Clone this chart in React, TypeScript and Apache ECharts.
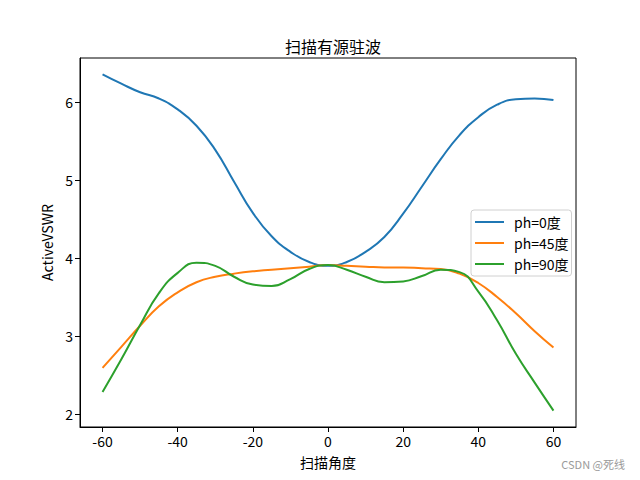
import React, { useEffect, useRef } from "react";
import * as echarts from "echarts";

const angles = [-60, -55, -50, -45, -40, -35, -30, -25, -20, -15, -10, -5, 0, 5, 10, 15, 20, 25, 30, 35, 40, 45, 50, 55, 60];
const ph0 = [6.36, 6.24, 6.13, 6.05, 5.91, 5.70, 5.39, 4.98, 4.58, 4.28, 4.08, 3.95, 3.90, 3.95, 4.08, 4.27, 4.57, 4.92, 5.27, 5.58, 5.81, 5.97, 6.04, 6.05, 6.03];
const ph45 = [2.59, 2.86, 3.13, 3.38, 3.56, 3.69, 3.76, 3.80, 3.83, 3.85, 3.87, 3.89, 3.91, 3.90, 3.89, 3.88, 3.88, 3.87, 3.86, 3.80, 3.68, 3.50, 3.29, 3.06, 2.85];
const ph90 = [2.28, 2.70, 3.14, 3.55, 3.81, 3.94, 3.90, 3.76, 3.66, 3.64, 3.73, 3.86, 3.91, 3.85, 3.76, 3.69, 3.70, 3.77, 3.85, 3.82, 3.57, 3.20, 2.77, 2.40, 2.04];
const seriesNames = ["ph=0度", "ph=45度", "ph=90度"];
const colors = ["#1f77b4", "#ff7f0e", "#2ca02c"];
const xTicks = [-60, -40, -20, 0, 20, 40, 60];
const yTicks = [2, 3, 4, 5, 6];

const FONT = "'Noto Sans CJK SC', 'DejaVu Sans', sans-serif";

export default function App() {
  const ref = useRef<HTMLDivElement>(null);
  useEffect(() => {
    document.body.style.margin = "0";
    const chart = echarts.init(ref.current!, null, { renderer: "svg" });
    const values = [ph0, ph45, ph90];
    chart.setOption({
      animation: false,
      backgroundColor: "#ffffff",
      textStyle: { fontFamily: FONT },
      title: {
        text: "扫描有源驻波",
        left: 280,
        top: 33,
        textStyle: { fontSize: 16, fontWeight: "normal", color: "#000", fontFamily: FONT },
      },
      grid: {
        left: 80,
        right: 64,
        top: 58,
        bottom: 53,
        show: true,
        borderColor: "#000",
        borderWidth: 1,
        backgroundColor: "transparent",
      },
      legend: {
        orient: "vertical",
        left: 471,
        top: 210,
        padding: [5, 3, 5, 4],
        itemGap: 7,
        itemWidth: 29,
        itemHeight: 2,
        icon: "rect",
        backgroundColor: "#fff",
        borderColor: "#d0d0d0",
        borderWidth: 1,
        borderRadius: 3,
        data: seriesNames,
        textStyle: { fontSize: 14, lineHeight: 14, color: "#000", fontFamily: FONT, padding: [0, 0, 0, 5] },
      },
      xAxis: {
        type: "value",
        min: -66,
        max: 66,
        name: "扫描角度",
        nameLocation: "middle",
        nameGap: 28,
        nameTextStyle: { fontSize: 14, color: "#000", fontFamily: FONT },
        axisLine: { show: true, onZero: false, lineStyle: { color: "#000", width: 1 } },
        axisTick: { show: true, length: 5, inside: false, customValues: xTicks, lineStyle: { color: "#000" } },
        axisLabel: { customValues: xTicks, fontSize: 14, color: "#000", margin: 7, fontFamily: FONT },
        splitLine: { show: false },
      },
      yAxis: {
        type: "value",
        min: 1.83,
        max: 6.57,
        name: "ActiveVSWR",
        nameLocation: "middle",
        nameGap: 19,
        nameRotate: 90,
        nameTextStyle: { fontSize: 14, color: "#000", fontFamily: FONT },
        axisLine: { show: true, onZero: false, lineStyle: { color: "#000", width: 1 } },
        axisTick: { show: true, length: 5, inside: false, customValues: yTicks, lineStyle: { color: "#000" } },
        axisLabel: { customValues: yTicks, fontSize: 14, color: "#000", margin: 7, fontFamily: FONT },
        splitLine: { show: false },
      },
      series: seriesNames.map((name, i) => ({
        name,
        type: "line",
        smooth: 0.5,
        showSymbol: false,
        symbol: "none",
        color: colors[i],
        lineStyle: { width: 2, color: colors[i] },
        data: angles.map((a, j) => [a, values[i][j]]),
      })),
      graphic: [
        {
          type: "text",
          right: 15,
          top: 458,
          style: { text: "CSDN @死线", fontSize: 11, fill: "#9a9a9a", fontFamily: FONT },
        },
      ],
    });
    return () => chart.dispose();
  }, []);
  return <div ref={ref} style={{ width: 640, height: 480 }} />;
}
